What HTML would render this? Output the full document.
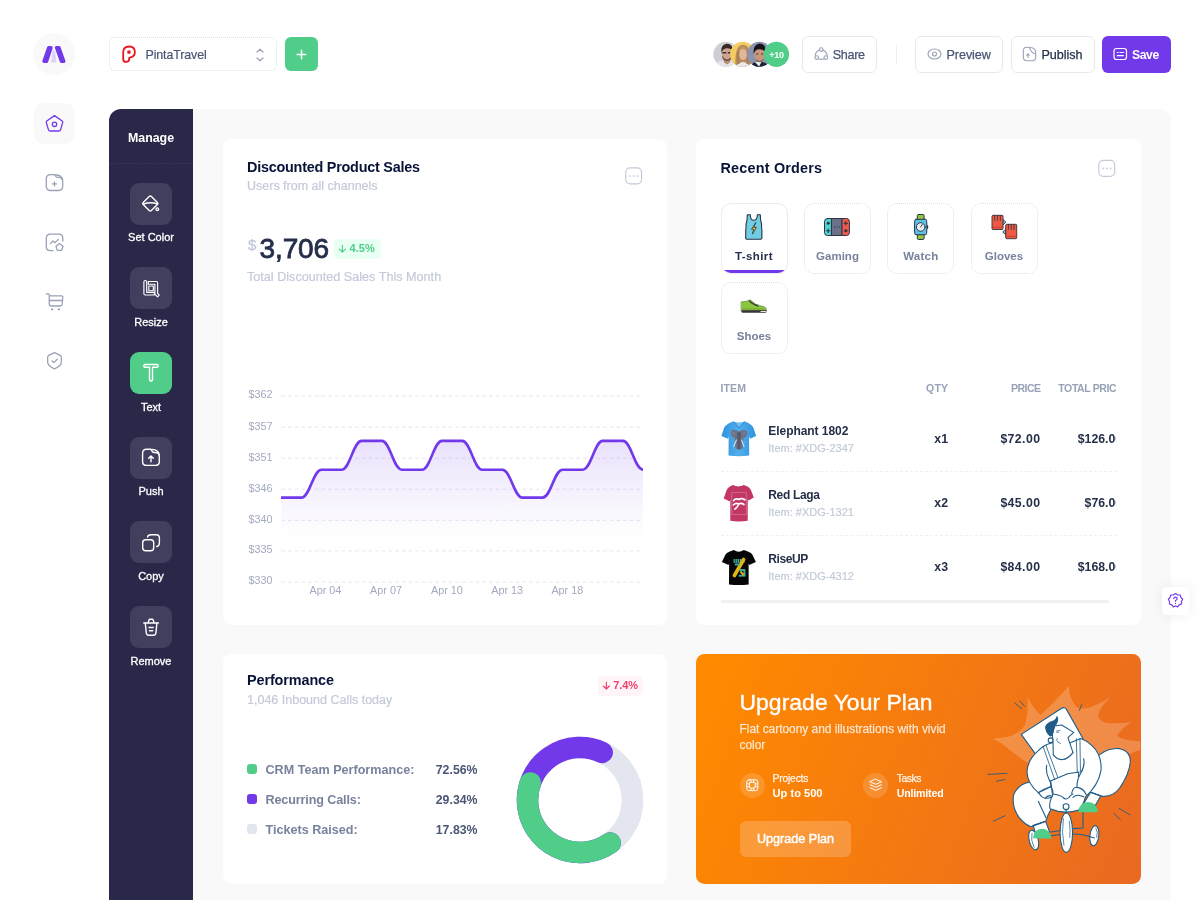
<!DOCTYPE html>
<html lang="en">
<head>
<meta charset="utf-8">
<title>Dashboard</title>
<style>
*{box-sizing:border-box;margin:0;padding:0}
html,body{width:1200px;height:900px;overflow:hidden;background:#fff}
body{font-family:"Liberation Sans",sans-serif;color:#071437;position:relative}
.abs{position:absolute}
.b{font-weight:bold}
/* left nav */
#logo{left:33px;top:33px;width:42px;height:42px;border-radius:50%;background:#f9f9f9}
#navact{left:34px;top:103px;width:41px;height:41px;border-radius:10px;background:#f9f9f9}
/* header */
#sel{left:109px;top:37px;width:167.5px;height:34px;border:1px dotted #dadeea;border-radius:6px}
#plus{left:285px;top:37px;width:33px;height:34px;border-radius:6px;background:#50cd89}
.btn{top:36px;height:37px;border:1px solid #e7e9f0;border-radius:6px;background:#fff;font-size:13px;color:#4b5675}
/* wrapper */
#wrap{left:109px;top:109px;width:1062px;height:800px;background:#f9f9f9;border-radius:12px 12px 0 0}
#aside{left:109px;top:109px;width:84px;height:800px;background:#2a2849;border-radius:12px 0 0 0}
.card{background:#fff;border-radius:8.5px}
.tool{left:130px;width:42px;height:42px;border-radius:9px;background:#403f5e}
.tlabel{left:109px;width:84px;margin-top:.8px;text-align:center;color:#fff;font-size:11px;-webkit-text-stroke:.3px #fff}

.tab{top:202.5px;width:67px;height:71.5px;border:1px dotted #d9dde9;border-radius:10px;background:#fff;overflow:hidden}
.tab .tl{position:absolute;left:0;right:0;top:44.5px;text-align:center;font-size:11.5px;line-height:16px;font-weight:bold;color:#78829d}
.th{top:381px;font-size:10.5px;line-height:14px;font-weight:bold;color:#99a1b7;letter-spacing:.1px}
.pn{left:768.3px;font-size:12px;letter-spacing:-.05px;line-height:16px;font-weight:bold;color:#252f4a}
.pi{left:768.3px;font-size:11px;line-height:14px;color:#c4cada;-webkit-text-stroke:.2px #c4cada}
.pv{font-size:12.3px;line-height:16px;font-weight:bold;color:#252f4a;text-align:right;white-space:nowrap}
.sep{left:720.5px;width:396px;height:0;border-top:1px dashed #eef0f5}

.lg{left:265.5px;margin-top:.8px;font-size:12.6px;line-height:16px;font-weight:bold;color:#78829d}
.lv{left:400px;margin-top:.8px;width:77.5px;text-align:right;font-size:12.3px;line-height:16px;font-weight:bold;color:#4b5675}
.w75{color:rgba(255,255,255,.78)}
</style>
</head>
<body>
<!-- left nav -->
<div id="logo" class="abs"></div>
<div id="navact" class="abs"></div>

<!-- header -->
<div id="sel" class="abs"></div>
<div id="plus" class="abs"></div>


<!-- logo -->
<svg class="abs" style="left:33px;top:33px" width="42" height="42" viewBox="33 33 42 42">
<path d="M53.800 50.300 Q54.700 50.300 55.100 51.600 L56.600 62.400 L51 62.400 L52.500 51.600 Q52.900 50.300 53.800 50.300 Z" fill="#dcd4f8"/>
<path d="M48.700 47.700 L51 47.700 L46.600 61.300 L44 61.300 Z" fill="#7239ea" stroke="#7239ea" stroke-width="3.400" stroke-linejoin="round"/>
<path d="M56.600 47.700 L59 47.700 L63.800 61.300 L61.500 61.300 Z" fill="#7239ea" stroke="#7239ea" stroke-width="3.400" stroke-linejoin="round"/>
</svg>
<!-- nav icons -->
<svg class="abs" style="left:40px;top:108px" width="30" height="270" viewBox="40 108 30 270" fill="none" stroke="#99a1b7" stroke-width="1.3" stroke-linecap="round" stroke-linejoin="round">
<g stroke="#7239ea"><path d="M54.5 115.6 L62.2 121 Q62.9 121.6 62.7 122.5 L60.6 129.6 Q60.2 131 58.8 131 L50.2 131 Q48.8 131 48.4 129.6 L46.3 122.5 Q46.100 121.6 46.8 121 Z"/><circle cx="54.5" cy="124.3" r="2.2"/></g>
<g><path d="M54.7 174.700 L50.500 174.700 Q46.300 174.700 46.300 178.900 L46.300 186.300 Q46.300 190.500 50.500 190.500 L58.500 190.500 Q62.700 190.500 62.700 186.300 L62.700 181.500 Q62.700 177.300 58.500 177.300 L57.300 177.300 Q55.800 177.300 54.700 174.700 Z"/><path d="M55.5 175 Q62 175 62.600 180"/><path d="M54.500 181.900 v4 M52.500 183.900 h4"/></g>
<g><path d="M62.800 241 L62.800 238.300 Q62.800 234.100 58.600 234.100 L50.500 234.100 Q46.300 234.100 46.300 238.300 L46.300 246.500 Q46.300 250.700 50.500 250.700 L53 250.700"/><path d="M50.300 243.600 L52.800 241 L55 242.600 L58.300 239.400"/><path d="M59.500 243.600 L63 246.200 L61.700 250.400 L57.300 250.400 L56 246.200 Z"/></g>
<g><path d="M46.300 293.800 L48.300 293.800 Q49.300 293.800 49.300 294.800 L49.300 304 Q49.300 306 51.300 306 L60 306 Q62 306 62.200 304 L62.800 297.300 Q63 295.800 61.500 295.800 L49.300 295.800"/><path d="M49.300 300.500 L62.500 300.500"/><path d="M51.800 309.300 h.8 M58.500 309.300 h.8" stroke-width="1.800"/></g>
<g><path d="M54.500 352.600 L60.300 355.300 Q61.300 355.800 61.300 356.900 L61.300 362.500 Q61.300 365.500 54.500 369 Q47.700 365.500 47.700 362.500 L47.700 356.900 Q47.700 355.800 48.700 355.300 Z"/><path d="M52 361 L53.800 362.600 L57.200 359.200"/></g>
</svg>
<!-- select -->
<svg class="abs" style="left:118px;top:42px" width="22" height="24" viewBox="118 42 22 24" fill="none">
<path d="M129.200 57.800 L129.200 59 Q129.200 61.900 126.200 61.900 Q123.200 61.900 123.200 58.900 L123.200 52.300 Q123.200 46.500 129.200 46.500 Q134.900 46.500 134.900 52.200 Q134.900 56.500 129.200 57.800 Z" stroke="#e9141c" stroke-width="1.800" stroke-linejoin="round"/>
<rect x="127.300" y="50.400" width="3.300" height="3.400" rx="1" fill="#e9141c"/>
</svg>
<div class="abs" style="left:145.500px;top:46.500px;font-size:12.4px;line-height:16px;color:#4b5675;letter-spacing:-.1px;-webkit-text-stroke:.2px #4b5675">PintaTravel</div>
<svg class="abs" style="left:254px;top:46px" width="12" height="18" viewBox="254 46 12 18" fill="none" stroke="#99a1b7" stroke-width="1.200" stroke-linecap="round" stroke-linejoin="round"><path d="M257 52 L260 49.200 L263 52"/><path d="M257 58 L260 60.800 L263 58"/></svg>
<svg class="abs" style="left:295px;top:48px" width="13" height="13" viewBox="0 0 13 13" fill="none" stroke="#fff" stroke-width="1.500" stroke-linecap="round"><path d="M6.500 2.200 v8.600 M2.200 6.500 h8.600"/></svg>

<!-- avatars -->
<svg class="abs" style="left:712px;top:40px" width="80" height="29" viewBox="712 40 80 29">
<defs>
<clipPath id="a1"><circle cx="725.900" cy="54.300" r="12.500"/></clipPath>
<clipPath id="a2"><circle cx="742.600" cy="54.300" r="12.500"/></clipPath>
<clipPath id="a3"><circle cx="759.500" cy="54.300" r="12.500"/></clipPath>
</defs>
<g clip-path="url(#a1)"><rect x="712" y="40" width="28" height="29" fill="#cfced6"/>
<path d="M714 69 Q715 61.500 722 60.500 L727 64 L732 60.500 Q738 61.500 739 69 Z" fill="#e4e5ec"/>
<path d="M723.500 57 L730.500 57 L730 62.500 L727 64.500 L724 62.500 Z" fill="#b88d78"/>
<ellipse cx="727" cy="53.500" rx="5.300" ry="6.800" fill="#cda48d"/>
<path d="M721.300 53 Q720.300 45 726.500 43.800 Q733.500 43.500 732.800 52.500 Q731.500 48.200 727 48.300 Q722.800 48.300 721.300 53 Z" fill="#3a2924"/>
<path d="M722 55.500 Q727 63.500 732 55.500 Q731.800 60.500 727 61 Q722.200 60.500 722 55.500 Z" fill="#6b4c3f"/>
<path d="M722.300 52.700 h4 M727.800 52.700 h4" stroke="#3d3336" stroke-width="1.500"/></g>
<g clip-path="url(#a2)"><rect x="729" y="40" width="28" height="29" fill="#f5cc62"/>
<path d="M735.500 69 Q734.500 52 738.500 46.800 Q743 42.500 747.500 46.800 Q751.500 52 750.500 69 Z" fill="#b98a5e"/>
<path d="M735 69 Q737 62.500 743 62 Q749 62.500 751 69 Z" fill="#ebe8ec"/>
<ellipse cx="743" cy="54" rx="3.900" ry="6" fill="#e3b898"/>
<path d="M739 53.500 Q738.800 46.800 743 46.500 Q747.200 46.800 747 53.500 Q746 49 743 49.200 Q740 49 739 53.500 Z" fill="#c39564"/>
<path d="M739.300 52 Q738 58 739.500 64 L738 64 Q736.500 58 738 51 Z M746.700 52 Q748 58 746.500 64 L748 64 Q749.500 58 748 51 Z" fill="#a67a50"/></g>
<g clip-path="url(#a3)"><rect x="746" y="40" width="28" height="29" fill="#8b93ae"/>
<path d="M749 69 Q751 62 759 61.500 Q768 62 771 69 Z" fill="#1e2233"/>
<path d="M755 62 L759 66.500 L761.500 62 Z" fill="#eceef2"/>
<ellipse cx="759.500" cy="54.800" rx="5.100" ry="7" fill="#c9987c"/>
<path d="M753.700 54 Q752.500 45 759.500 43.600 Q767 44 765.500 54 Q764.500 49 759.500 49.200 Q755 49 753.700 54 Z" fill="#17141a"/>
<path d="M755.500 58.500 Q759.500 63 763.500 58.500 Q763 62 759.500 62.300 Q756 62 755.500 58.500 Z" fill="#8a6350"/>
<path d="M756 54 h2.300 M761 54 h2.300" stroke="#3b2a25" stroke-width=".900"/></g>
<circle cx="776.400" cy="54.300" r="12.650" fill="#50cd89"/>
<text x="776.500" y="57.500" text-anchor="middle" font-family="Liberation Sans, sans-serif" font-size="9" font-weight="bold" fill="#fff" letter-spacing="-.2">+10</text>
</svg>

<!-- buttons -->
<div class="abs btn" style="left:802px;width:75px"></div>
<div class="abs" style="left:832.800px;top:46.6px;font-size:12.6px;line-height:17px;color:#4b5675;letter-spacing:-.35px;-webkit-text-stroke:.25px #4b5675">Share</div>
<svg class="abs" style="left:812px;top:45px" width="18" height="18" viewBox="812 45 18 18" fill="none" stroke="#99a1b7" stroke-width="1.100" stroke-linecap="round"><circle cx="821.200" cy="49.600" r="1.800"/><circle cx="816.700" cy="57.600" r="1.800"/><circle cx="825.800" cy="57.600" r="1.800"/><path d="M819.200 50.300 Q815.200 52 815.300 55.800 M823.200 50.300 Q827.200 52 827.100 55.800 M818.500 58.800 Q821.200 60 824 58.800"/></svg>
<div class="abs" style="left:896px;top:45px;width:1px;height:19px;background:#eceef3"></div>
<div class="abs btn" style="left:915px;width:88px"></div>
<div class="abs" style="left:946.500px;top:46.6px;font-size:12.6px;line-height:17px;color:#4b5675;letter-spacing:-.07px;-webkit-text-stroke:.25px #4b5675">Preview</div>
<svg class="abs" style="left:926px;top:46px" width="17" height="16" viewBox="926 46 17 16" fill="none" stroke="#99a1b7" stroke-width="1.100"><ellipse cx="934.500" cy="54" rx="6.500" ry="5"/><circle cx="934.500" cy="54" r="2"/></svg>
<div class="abs btn" style="left:1011px;width:84px"></div>
<div class="abs" style="left:1041.500px;top:46.6px;font-size:12.6px;line-height:17px;color:#252f4a;letter-spacing:-.07px;-webkit-text-stroke:.25px #252f4a">Publish</div>
<svg class="abs" style="left:1021px;top:45px" width="17" height="18" viewBox="1021 45 17 18" fill="none" stroke="#99a1b7" stroke-width="1.100" stroke-linecap="round" stroke-linejoin="round"><path d="M1029.500 47.300 L1027 47.300 Q1023.300 47.300 1023.300 51 L1023.300 57 Q1023.300 60.700 1027 60.700 L1032 60.700 Q1035.700 60.700 1035.700 57 L1035.700 53.500 Q1031 53.500 1029.500 47.300 Z"/><path d="M1030.500 47.500 Q1035.500 48 1035.700 52.500"/><path d="M1028 57.500 v-3.500 M1026.600 55.200 L1028 53.800 L1029.400 55.200"/></svg>
<div class="abs" style="left:1102px;top:36px;width:69px;height:37px;border-radius:6px;background:#7239ea"></div>
<div class="abs b" style="left:1132px;top:46.6px;font-size:12.2px;line-height:17px;color:#fff;letter-spacing:-.4px">Save</div>
<svg class="abs" style="left:1112px;top:46px" width="17" height="16" viewBox="1112 46 17 16" fill="none" stroke="#fff" stroke-width="1.200" stroke-linecap="round"><rect x="1114" y="48.500" width="12.500" height="11" rx="2.500"/><path d="M1117.300 52.500 h.8 M1120 52.500 h3.500 M1117.300 55.700 h6"/></svg>

<!-- wrapper -->
<div id="wrap" class="abs"></div>
<div id="aside" class="abs"></div>


<div class="abs b" style="left:109px;top:129.8px;width:84px;text-align:center;color:#fff;font-size:12.4px;line-height:16px">Manage</div>
<div class="abs" style="left:109px;top:163px;width:84px;height:0;border-top:1px dashed #36345a"></div>
<div class="abs tool" id="tool0" style="top:182.7px;background:#403f5e"></div>
<div class="abs tlabel" style="top:229.7px;line-height:15px">Set Color</div>
<div class="abs tool" id="tool1" style="top:267.4px;background:#403f5e"></div>
<div class="abs tlabel" style="top:314.4px;line-height:15px">Resize</div>
<div class="abs tool" id="tool2" style="top:352.0px;background:#50cd89"></div>
<div class="abs tlabel" style="top:399.0px;line-height:15px">Text</div>
<div class="abs tool" id="tool3" style="top:436.7px;background:#403f5e"></div>
<div class="abs tlabel" style="top:483.7px;line-height:15px">Push</div>
<div class="abs tool" id="tool4" style="top:521.4px;background:#403f5e"></div>
<div class="abs tlabel" style="top:568.4px;line-height:15px">Copy</div>
<div class="abs tool" id="tool5" style="top:606.0px;background:#403f5e"></div>
<div class="abs tlabel" style="top:653.0px;line-height:15px">Remove</div>


<!-- tool icons -->
<svg class="abs" style="left:130px;top:180px" width="42" height="470" viewBox="130 180 42 470" fill="none" stroke="#fff" stroke-width="1.400" stroke-linecap="round" stroke-linejoin="round">
<!-- set color -->
<g><path d="M149.200 196.600 Q150.300 195.600 151.400 196.600 L157.400 202.400 Q158.500 203.500 157.400 204.600 L151.400 210.400 Q150.300 211.400 149.200 210.400 L143.200 204.600 Q142.100 203.500 143.200 202.400 Z"/><path d="M143.500 204 Q151 201.500 157.500 204"/><circle cx="157.300" cy="209.200" r="1.300"/></g>
<!-- resize -->
<g stroke-width="1.150"><path d="M143.900 281.700 Q143.900 280.500 145.300 280.500 Q146.700 280.500 146.700 281.700 L146.700 292.300 L154.300 292.300 L154.300 295 L145.100 295 Q143.900 295 143.900 293.800 Z"/><path d="M148.300 281.500 L156.400 281.500 Q157.600 281.500 157.600 282.700 L157.600 293.300 L159.200 295 L157.500 296.800 L154.900 294.200 L154.900 284.200 L148.300 284.200 Z" fill="#403f5e"/><rect x="148.800" y="286" width="4.500" height="4.700" stroke-width="1.100"/></g>
<!-- text -->
<g><path d="M145 364.500 L157 364.500 Q158.200 364.500 158.200 365.900 Q158.200 367.300 157 367.300 L152.500 367.300 L152.500 379.500 Q152.500 381 151 381 Q149.500 381 149.500 379.500 L149.500 367.300 L145 367.300 Q143.800 367.300 143.800 365.900 Q143.800 364.500 145 364.500 Z"/></g>
<!-- push -->
<g><path d="M151 449.300 L146.600 449.300 Q142.600 449.300 142.600 453.300 L142.600 461.400 Q142.600 465.400 146.600 465.400 L155.300 465.400 Q159.300 465.400 159.300 461.400 L159.300 456.500 Q159.300 452.500 155.300 452.500 L154 452.500 Q152.200 452.500 151 449.300 Z"/><path d="M152 449.500 Q158.600 449.700 159.200 455"/><path d="M151 461.800 v-5.500 M148.700 458.300 L151 456 L153.300 458.300"/></g>
<!-- copy -->
<g><rect x="142.700" y="539.800" width="11" height="11" rx="3"/><path d="M147.500 537 Q148 534.700 151 534.700 L156.300 534.700 Q159.400 534.700 159.400 537.800 L159.400 543 Q159.400 546 156.800 546.500"/></g>
<!-- remove -->
<g><path d="M143.800 623 L158.400 623"/><path d="M148.200 622.600 L149 620 Q149.300 619.200 150.200 619.200 L152 619.200 Q152.900 619.200 153.200 620 L154 622.600"/><path d="M145.300 623.300 L146.300 633 Q146.600 635.300 148.900 635.300 L153.300 635.300 Q155.600 635.300 155.900 633 L156.900 623.300"/><path d="M149 627.500 h4.200 M149.500 630.800 h3.200"/></g>
</svg>

<!-- cards -->
<div id="c1" class="abs card" style="left:223px;top:139px;width:444px;height:486px"></div>
<div id="c2" class="abs card" style="left:696px;top:139px;width:445px;height:486px"></div>
<div id="c3" class="abs card" style="left:223px;top:654px;width:444px;height:230px"></div>
<div id="c4" class="abs card" style="left:696px;top:654px;width:445px;height:230px;border-radius:8.5px;background:linear-gradient(112.14deg,#ff8a00 3.59%,#e96922 100%)"></div>

<!-- card1 content -->
<div class="abs b" style="left:247px;top:158px;font-size:14.4px;line-height:18px;color:#071437;letter-spacing:-.23px">Discounted Product Sales</div>
<div class="abs" style="left:247px;top:178px;font-size:12.5px;line-height:16px;color:#c4cada;-webkit-text-stroke:.2px #c4cada">Users from all channels</div>
<div class="abs" style="left:248px;top:237.300px;font-size:15px;line-height:16px;color:#c0c6d8;-webkit-text-stroke:.25px #c0c6d8">$</div>
<div class="abs" style="left:259.600px;top:232px;font-size:28px;line-height:34px;color:#252f4a;letter-spacing:-.15px;-webkit-text-stroke:.8px #252f4a">3,706</div>
<div class="abs" style="left:333.5px;top:239px;width:47.3px;height:19.5px;border-radius:4.5px;background:#e8fff3"></div>
<svg class="abs" style="left:337px;top:243px" width="11" height="11" viewBox="337 243 11 11" fill="none" stroke="#50cd89" stroke-width="1.150" stroke-linecap="round" stroke-linejoin="round"><path d="M342.400 245.400 v6.600 M339.400 249.200 L342.400 252.200 L345.400 249.200"/></svg>
<div class="abs b" style="left:349.5px;top:242.3px;font-size:11px;line-height:13px;color:#50cd89;letter-spacing:.1px">4.5%</div>
<div class="abs" style="left:247px;top:269px;font-size:12.63px;line-height:16px;color:#c4cada;-webkit-text-stroke:.2px #c4cada">Total Discounted Sales This Month</div>
<svg class="abs" style="left:0;top:0" width="1200" height="900" viewBox="0 0 1200 900">
<defs><linearGradient id="ag" x1="0" y1="0" x2="0" y2="1"><stop offset="0" stop-color="#7239ea" stop-opacity=".15"/><stop offset=".68" stop-color="#7239ea" stop-opacity="0"/></linearGradient>
<clipPath id="cc"><rect x="281" y="380" width="362" height="210"/></clipPath></defs>
<style>.ax{font-family:"Liberation Sans",sans-serif;font-size:10.8px;fill:#a3a9bf}</style>
<line x1="281.3" x2="641.6" y1="396" y2="396" stroke="#e4e6ef" stroke-width="1" stroke-dasharray="3.7 3"/>
<text x="272.5" y="398.1" text-anchor="end" class="ax">$362</text>
<line x1="281.3" x2="641.6" y1="427.1" y2="427.1" stroke="#e4e6ef" stroke-width="1" stroke-dasharray="3.7 3"/>
<text x="272.5" y="429.5" text-anchor="end" class="ax">$357</text>
<line x1="281.3" x2="641.6" y1="458.2" y2="458.2" stroke="#e4e6ef" stroke-width="1" stroke-dasharray="3.7 3"/>
<text x="272.5" y="460.6" text-anchor="end" class="ax">$351</text>
<line x1="281.3" x2="641.6" y1="489.2" y2="489.2" stroke="#e4e6ef" stroke-width="1" stroke-dasharray="3.7 3"/>
<text x="272.5" y="491.6" text-anchor="end" class="ax">$346</text>
<line x1="281.3" x2="641.6" y1="520.3" y2="520.3" stroke="#e4e6ef" stroke-width="1" stroke-dasharray="3.7 3"/>
<text x="272.5" y="522.7" text-anchor="end" class="ax">$340</text>
<line x1="281.3" x2="641.6" y1="550.9" y2="550.9" stroke="#e4e6ef" stroke-width="1" stroke-dasharray="3.7 3"/>
<text x="272.5" y="553.3" text-anchor="end" class="ax">$335</text>
<line x1="281.3" x2="641.6" y1="582.0" y2="582.0" stroke="#e4e6ef" stroke-width="1" stroke-dasharray="3.7 3"/>
<text x="272.5" y="584.4" text-anchor="end" class="ax">$330</text>
<text x="325.4" y="594.3" text-anchor="middle" class="ax">Apr 04</text>
<text x="386" y="594.3" text-anchor="middle" class="ax">Apr 07</text>
<text x="446.9" y="594.3" text-anchor="middle" class="ax">Apr 10</text>
<text x="507.1" y="594.3" text-anchor="middle" class="ax">Apr 13</text>
<text x="567.3" y="594.3" text-anchor="middle" class="ax">Apr 18</text>

<g clip-path="url(#cc)">
<path d="M281.3 497.6 L301.4 497.6 C309.8 497.6 313.0 469.7 321.5 469.7 L341.6 469.7 C350.0 469.7 353.2 440.9 361.7 440.9 L381.8 440.9 C390.2 440.9 393.4 469.7 401.9 469.7 L422.0 469.7 C430.4 469.7 433.6 440.9 442.1 440.9 L462.1 440.9 C470.6 440.9 473.8 469.7 482.2 469.7 L502.3 469.7 C510.8 469.7 514.0 497.6 522.4 497.6 L542.5 497.6 C551.0 497.6 554.2 469.7 562.6 469.7 L582.7 469.7 C591.2 469.7 594.4 440.9 602.8 440.9 L622.9 440.9 C631.3 440.9 634.6 469.7 643.0 469.7 L643.0 582 L281.3 582 Z" fill="url(#ag)"/>
<path d="M281.3 497.6 L301.4 497.6 C309.8 497.6 313.0 469.7 321.5 469.7 L341.6 469.7 C350.0 469.7 353.2 440.9 361.7 440.9 L381.8 440.9 C390.2 440.9 393.4 469.7 401.9 469.7 L422.0 469.7 C430.4 469.7 433.6 440.9 442.1 440.9 L462.1 440.9 C470.6 440.9 473.8 469.7 482.2 469.7 L502.3 469.7 C510.8 469.7 514.0 497.6 522.4 497.6 L542.5 497.6 C551.0 497.6 554.2 469.7 562.6 469.7 L582.7 469.7 C591.2 469.7 594.4 440.9 602.8 440.9 L622.9 440.9 C631.3 440.9 634.6 469.7 643.0 469.7" fill="none" stroke="#7239ea" stroke-width="2.6" stroke-linecap="round" stroke-linejoin="round"/>
</g>
</svg>

<!-- card2 content -->
<div class="abs b" style="left:720.5px;top:159px;font-size:14.4px;line-height:18px;color:#071437;letter-spacing:.2px">Recent Orders</div>
<div id="tabs">
<div class="abs tab" id="tab0" style="left:720.5px;border:1px solid #e9ebf5"><div class="tl" style="color:#252f4a;letter-spacing:.4px">T-shirt</div><div style="position:absolute;left:0;right:0;bottom:0;height:3px;background:#7239ea"></div></div>
<div class="abs tab" id="tab1" style="left:804px"><div class="tl">Gaming</div></div>
<div class="abs tab" id="tab2" style="left:887.3px"><div class="tl" style="letter-spacing:.25px">Watch</div></div>
<div class="abs tab" id="tab3" style="left:970.5px"><div class="tl">Gloves</div></div>
<div class="abs tab" id="tab4" style="left:720.5px;top:282px"><div class="tl">Shoes</div></div>
</div>
<div id="tbl" class="abs" style="left:720.5px;top:370px;width:396px;height:240px;overflow:hidden">
</div>
<div class="abs th" style="left:720.5px">ITEM</div>
<div class="abs th" style="left:888px;width:60px;text-align:right">QTY</div>
<div class="abs th" style="left:980px;width:60px;text-align:right;letter-spacing:-.5px"><span style="margin-right:-.5px">PRICE</span></div>
<div class="abs th" style="left:1058.3px;width:58px;overflow:hidden;white-space:nowrap;letter-spacing:-.4px">TOTAL PRICE</div>

<div class="abs pn" style="top:423px">Elephant 1802</div><div class="abs pi" style="top:440.5px">Item: #XDG-2347</div>
<div class="abs pv" style="left:888px;width:60px;top:430.5px">x1</div><div class="abs pv" style="left:980px;width:60px;top:430.5px;letter-spacing:.4px"><span style="margin-right:-.4px">$72.00</span></div><div class="abs pv" style="left:1050px;width:66.2px;top:430.5px;overflow:hidden;text-align:left;direction:ltr"><span style="float:right;margin-right:-6px">$126.00</span></div>
<div class="abs sep" style="top:471px"></div>
<div class="abs pn" style="top:487px;letter-spacing:-.35px">Red Laga</div><div class="abs pi" style="top:504.5px">Item: #XDG-1321</div>
<div class="abs pv" style="left:888px;width:60px;top:494.5px">x2</div><div class="abs pv" style="left:980px;width:60px;top:494.5px;letter-spacing:.4px"><span style="margin-right:-.4px">$45.00</span></div><div class="abs pv" style="left:1050px;width:66.2px;top:494.5px;overflow:hidden"><span style="float:right;margin-right:-6px">$76.00</span></div>
<div class="abs sep" style="top:535px"></div>
<div class="abs pn" style="top:551px;letter-spacing:-.4px">RiseUP</div><div class="abs pi" style="top:568.5px">Item: #XDG-4312</div>
<div class="abs pv" style="left:888px;width:60px;top:558.5px">x3</div><div class="abs pv" style="left:980px;width:60px;top:558.5px;letter-spacing:.4px"><span style="margin-right:-.4px">$84.00</span></div><div class="abs pv" style="left:1050px;width:66.2px;top:558.5px;overflow:hidden"><span style="float:right;margin-right:-6px">$168.00</span></div>
<div class="abs" style="left:720.5px;top:599.5px;width:388.5px;height:3.5px;border-radius:2px;background:#f1f1f4"></div>


<!-- tab icons -->
<svg class="abs" style="left:740px;top:210px" width="290" height="110" viewBox="740 210 290 110" stroke-linejoin="round" stroke-linecap="round">
<!-- tank top -->
<g transform="translate(745 214)" stroke="#2f3340" stroke-width="1.100">
<path d="M2.300 0.800 L5.300 0.800 Q5.300 6.300 8.800 6.300 Q12.300 6.300 12.300 0.800 L15.300 0.800 Q15.300 7 16.600 10.200 Q16.300 13 16.900 16 L16.900 24 Q16.900 25.200 15.700 25.200 L1.900 25.200 Q0.700 25.200 0.700 24 L0.700 16 Q1.300 13 1 10.200 Q2.300 7 2.300 0.800 Z" fill="#70cde6"/>
<path d="M10.600 8.800 L6.500 15.200 L8.700 15.200 L7.400 20.200 L11.400 13.400 L9.200 13.400 Z" fill="#f7bf26" stroke-width=".800"/>
</g>
<!-- switch -->
<g stroke="#2f3340" stroke-width="1">
<path d="M827.500 218.500 L831.800 218.500 L831.800 235.500 L827.500 235.500 Q824.500 235.500 824.500 232.500 L824.500 221.500 Q824.500 218.500 827.500 218.500 Z" fill="#4fd3d6"/>
<rect x="831.800" y="218.500" width="10.500" height="17" fill="#6b7188"/>
<path d="M842.300 218.500 L846.400 218.500 Q849.400 218.500 849.400 221.500 L849.400 232.500 Q849.400 235.500 846.400 235.500 L842.300 235.500 Z" fill="#f2594b"/>
<circle cx="828.200" cy="223.200" r="1.200" fill="#2f3340" stroke-width=".600"/>
<path d="M828.200 229 v3.400 M826.500 230.700 h3.400" stroke-width="1.100"/>
<path d="M845.800 221.500 v3.400 M844.100 223.200 h3.400" stroke-width="1.100"/>
<circle cx="845.800" cy="230.800" r="1.200" fill="#2f3340" stroke-width=".600"/>
<path d="M834.500 227 h.300 M837 227 h.300 M839.500 227 h.300" stroke-width="1.100"/>
</g>
<!-- watch -->
<g stroke="#2f3340" stroke-width="1">
<rect x="917.300" y="214.500" width="6.800" height="6" rx="1.200" fill="#8dc63f"/>
<rect x="917.300" y="233.500" width="6.800" height="6" rx="1.200" fill="#8dc63f"/>
<path d="M916 219.300 L925.400 219.300 Q926.600 219.300 926.600 220.500 Q927.400 227 926.600 233.500 Q926.600 234.700 925.400 234.700 L916 234.700 Q914.800 234.700 914.800 233.500 Q914 227 914.800 220.500 Q914.800 219.300 916 219.300 Z" fill="#5bc3ea"/>
<circle cx="920.700" cy="227" r="4.300" fill="#e9edf2"/>
<path d="M920.700 227 L922.300 224.300" stroke-width=".900"/>
<path d="M927.500 226 v2" stroke-width="1.400"/>
</g>
<!-- gloves -->
<g stroke="#2f3340" stroke-width=".900">
<path d="M1003 219.500 L1005.800 222 L1003 225 Z" fill="#7fd0ee"/>
<path d="M1005.500 229.500 L1002.700 232 L1005.500 234.500 Z" fill="#7fd0ee"/>
<path d="M992 216.200 Q992 215.300 993 215.300 L1002 215.300 Q1003 215.300 1003 216.200 L1003 228.600 Q1003 229.500 1002 229.500 L993 229.500 Q992 229.500 992 228.600 Z" fill="#ee5a44"/>
<path d="M994.700 215.500 v5 M997.500 215.500 v5 M1000.300 215.500 v5" stroke-width=".800"/>
<path d="M1005.700 225.200 Q1005.700 224.300 1006.700 224.300 L1015.700 224.300 Q1016.700 224.300 1016.700 225.200 L1016.700 237.800 Q1016.700 238.700 1015.700 238.700 L1006.700 238.700 Q1005.700 238.700 1005.700 237.800 Z" fill="#ee5a44"/>
<path d="M1008.400 224.500 v5 M1011.200 224.500 v5 M1014 224.500 v5" stroke-width=".800"/>
<path d="M992.200 227.300 h10.600 M1005.900 236.500 h10.600" stroke-width=".700" stroke="#b8382c"/>
</g>
<!-- shoe -->
<g>
<path d="M741.500 301.800 Q745 302.300 749.300 300.200 Q750.300 299.700 751 300.500 Q755 305 762 306.200 Q766.300 306.800 766.300 310 L766.300 311 L741.500 311 Z" fill="#8bc63e" stroke="#46691f" stroke-width=".600"/>
<path d="M741.500 310.200 L766.400 310.200 L766.400 311.700 Q766.400 312.800 765.300 312.800 L742.600 312.800 Q741.500 312.800 741.500 311.700 Z" fill="#3b3340"/>
<path d="M749.500 301 L751.300 302.800 M751.300 302.300 L753.300 304.200 M753.500 303.600 L755.500 305.400 M756 304.800 L758 306.400" stroke="#2f3340" stroke-width="1.100"/>
<path d="M742.500 309 h21" stroke="#5e8c26" stroke-width=".700" stroke-dasharray="1 1"/>
<path d="M761 311.500 h4.500" stroke="#e8e8ea" stroke-width="1"/>
</g>
</svg>

<!-- product images -->
<svg class="abs" style="left:718px;top:418px" width="42" height="172" viewBox="718 418 42 172">
<defs><linearGradient id="bs" x1="0" y1="0" x2="1" y2="0"><stop offset="0" stop-color="#2f93df"/><stop offset=".5" stop-color="#52aeec"/><stop offset="1" stop-color="#2f93df"/></linearGradient></defs>
<g transform="translate(720.800 421)">
<path d="M12.600 .600 Q18.200 3 23.800 .600 Q30 2.500 32.500 6.500 L35.300 14.900 L29.200 17.700 L28.200 15.500 L28.400 34.500 Q18 36 7.700 34.500 L7.900 15.500 L7.200 17.700 L.600 14.900 L3.400 6.500 Q6 2.500 12.600 .600 Z" fill="url(#bs)"/>
<path d="M12.600 .600 Q18.200 3 23.800 .600 L18.200 7.200 Z" fill="#6bbcf0"/>
<path d="M12.600 .600 L18.200 7.200 L23.800 .600" fill="none" stroke="#2a86cf" stroke-width=".900"/>
<path d="M10 11.500 Q10.500 8.200 14.500 9 Q17 9.500 18.200 10.500 Q19.400 9.500 21.900 9 Q25.900 8.200 26.400 11.500 Q26.400 15.500 22.500 17.500 L21.800 27 Q20 29.200 18.200 28.500 Q16.400 29.200 14.600 27 L13.900 17.500 Q10 15.500 10 11.500 Z" fill="#6f7387"/>
<path d="M16.300 12 Q18.200 10.500 20.100 12 L19.600 27.500 Q18.200 28.800 16.800 27.500 Z" fill="#565a72"/>
<path d="M15.600 19 L13 25.500 M20.800 19 L23.200 25.500" stroke="#e6edf5" stroke-width="1" stroke-linecap="round"/>
<path d="M12 11.500 l2 1.500 M24.400 11.500 l-2 1.500" stroke="#9a8fb0" stroke-width=".800"/>
</g>
<g transform="translate(723.400 484)">
<path d="M9.500 1.100 Q15 4.200 20.400 1.100 Q26 2.800 27.500 6 L30.400 13.400 L25.300 16.400 L24.400 15 L24.300 36.800 Q15.500 38 6.900 36.800 L6.900 15.500 L6.400 17.500 L.300 14.400 L3.200 6.200 Q4.800 2.800 9.500 1.100 Z" fill="#c23763"/>
<path d="M9.500 1.100 Q15 4.200 20.400 1.100 Q15 6 9.500 1.100 Z" fill="#a3294f"/>
<rect x="8.300" y="8.400" width="14.600" height="22.200" fill="none" stroke="#d26c8d" stroke-width=".900"/>
<path d="M10.200 16.500 Q12.500 13.800 15.500 15.500 Q18 13.500 21.500 15.800 M10 20.800 Q12.800 18.200 15.200 20.200 Q17.800 18.500 20.500 20.500 M15.200 20.500 Q13.500 24 11.500 25" fill="none" stroke="#fff" stroke-width="1.700" stroke-linecap="round"/>
</g>
<g transform="translate(720.800 549)">
<path d="M13.100 1.100 Q17.900 4.200 23 1.100 Q29 2.800 31.500 5.500 L35.100 12.900 L28.400 16 L27.800 14.500 L27.900 35.400 Q18 36.500 8.200 35.400 L8.300 14.500 L7.700 16 L1.100 12.900 L4.700 5.500 Q7 2.800 13.100 1.100 Z" fill="#050507"/>
<path d="M12.800 10 h10.800 v4 h-10.800 Z" fill="#3fa79a"/>
<path d="M14.500 10 v4 M16.600 10 v4 M18.700 10 v4 M20.800 10 v4" stroke="#050507" stroke-width=".600"/>
<path d="M22.800 10.500 L13.600 26.500" stroke="#e2b514" stroke-width="3.600" stroke-linecap="round"/>
<path d="M14 15.500 L19 15.500 M18.500 21 L23.500 21 L23.800 26.500 L18 26.800" stroke="#3fa79a" stroke-width="2" fill="none"/>
<path d="M19.500 22.500 L23 26" stroke="#e2b514" stroke-width="1.800"/>
</g>
</svg>

<!-- card3 content -->
<div class="abs b" style="left:247px;top:671px;font-size:14.4px;line-height:18px;color:#071437;letter-spacing:-.1px">Performance</div>
<div class="abs" style="left:247px;top:691.5px;font-size:12.5px;line-height:16px;color:#c4cada;-webkit-text-stroke:.2px #c4cada">1,046 Inbound Calls today</div>
<div class="abs" style="left:598px;top:676px;width:44.8px;height:19.5px;border-radius:4.5px;background:#fff5f8"></div>
<svg class="abs" style="left:601px;top:680px" width="11" height="11" viewBox="601 680 11 11" fill="none" stroke="#f1416c" stroke-width="1.150" stroke-linecap="round" stroke-linejoin="round"><path d="M606.400 682.300 v6.600 M603.400 686 L606.400 689 L609.400 686"/></svg>
<div class="abs b" style="left:613.3px;top:678.700px;font-size:11px;line-height:13px;color:#f1416c;letter-spacing:-.1px">7.4%</div>
<div class="abs" style="left:247.2px;top:764.3px;width:10px;height:10px;border-radius:3px;background:#50cd89"></div>
<div class="abs" style="left:247.2px;top:794.3px;width:10px;height:10px;border-radius:3px;background:#7239ea"></div>
<div class="abs" style="left:247.2px;top:824.3px;width:10px;height:10px;border-radius:3px;background:#e4e6ef"></div>
<div class="abs lg" style="top:761px">CRM Team Performance:</div><div class="abs lv" style="top:761px">72.56%</div>
<div class="abs lg" style="top:791px;letter-spacing:-.13px">Recurring Calls:</div><div class="abs lv" style="top:791px">29.34%</div>
<div class="abs lg" style="top:821px">Tickets Raised:</div><div class="abs lv" style="top:821px">17.83%</div>
<svg class="abs" style="left:500px;top:720px" width="160" height="160" viewBox="500 720 160 160">
<circle cx="580" cy="800" r="52.5" fill="none" stroke="#e4e6ef" stroke-width="21.5"/>
<path d="M610.11 843.01 A52.5 52.5 0 1 1 602.19 752.42" fill="none" stroke="#7239ea" stroke-width="21.5" stroke-linecap="round"/>
<path d="M610.11 843.01 A52.5 52.5 0 0 1 530.36 782.91" fill="none" stroke="#50cd89" stroke-width="21.5" stroke-linecap="round"/>
</svg>

<!-- card4 content -->
<!-- illustration -->
<svg class="abs" style="left:975px;top:670px" width="166" height="214" viewBox="975 670 166 214">
<g transform="translate(985 680) scale(0.133333)" stroke="#1f5c88" stroke-width="8.200" stroke-linecap="round" stroke-linejoin="round" fill="#fff">
<path id="burst" d="M60 440 L175 425 Q265 400 300 335 Q325 250 320 128 Q360 210 415 262 Q520 170 628 45 Q630 140 690 205 Q720 225 790 205 Q880 170 945 130 Q860 200 848 270 Q860 310 910 322 Q1000 330 1100 315 Q1020 365 990 420 Q1040 455 1165 460 L1165 525 Q1120 535 1080 560 L700 800 L330 625 Q290 610 130 480 Z" fill="#fff" fill-opacity=".2" stroke="none"/>
<!-- motion lines -->
<path d="M222 172 L275 215 M262 158 L298 198 M725 185 L708 228 M22 708 L165 700 M85 760 L148 746 M62 1060 L150 1018 M1005 962 L1088 1012 M968 1002 L1015 1048" fill="none" stroke-width="6.500"/>
<!-- pillow -->
<path d="M272 408 L575 212 Q598 198 612 222 L735 440 L440 640 Z"/>
<!-- rear wheels -->
<ellipse cx="365" cy="1200" rx="34" ry="76" transform="rotate(-14 365 1200)"/>
<path d="M352 1150 Q340 1200 368 1255" fill="none" stroke-width="5.500"/>
<ellipse cx="820" cy="1168" rx="33" ry="76" transform="rotate(7 820 1168)"/>
<path d="M832 1110 Q850 1140 838 1180" fill="none" stroke-width="5.500"/>
<!-- right leg -->
<path d="M860 560 Q930 505 1010 515 Q1092 530 1090 615 Q1080 710 1010 810 Q960 878 880 872 L780 838 L700 800 L760 620 Z"/>
<path d="M792 842 L742 925 L828 940 L868 870 Z"/>
<path d="M780 838 L872 872" fill="none"/>
<!-- left leg -->
<path d="M335 765 Q250 780 215 860 Q198 950 255 1030 Q300 1085 345 1100 L455 1062 Q470 1010 500 960 L600 900 L470 800 Z"/>
<path d="M362 1094 L380 1150 L485 1140 L455 1062 Z"/>
<path d="M358 1092 L452 1060 M400 910 L458 1035" fill="none"/>
<!-- axles, crank -->
<path d="M495 1140 L590 1125 M495 1168 L590 1155 M660 1155 Q740 1155 820 1185 M735 992 L735 1110 L660 1115" fill="none"/>
<!-- upper body silhouette -->
<path d="M505 470 Q440 485 400 530 Q318 600 315 690 Q320 780 400 845 L425 875 Q455 898 500 878 Q478 930 488 965 Q600 1012 702 975 Q742 930 752 878 Q850 790 870 680 Q878 560 800 490 Q760 452 718 438 L640 470 Z"/>
<!-- belly bottom hidden join -->
<!-- front wheel -->
<ellipse cx="610" cy="1145" rx="47" ry="148"/>
<path d="M588 1040 Q572 1140 592 1240 M632 1060 Q642 1120 636 1180" fill="none" stroke-width="5.500"/>
<path d="M608 972 L608 1000" fill="none"/>
<circle cx="608" cy="950" r="22"/>
<!-- shoes -->
<path d="M360 1186 Q365 1118 428 1115 Q492 1118 496 1190 Z" fill="#50cd89" stroke="none"/>
<path d="M700 991 Q706 918 772 915 Q840 918 846 991 Z" fill="#50cd89" stroke="none"/>
<!-- arms inner lines -->
<path d="M462 640 Q455 700 480 745 Q500 775 492 800 L400 845 M740 590 Q752 640 718 700 Q688 750 690 805" fill="none"/>
<!-- bib -->
<path d="M490 757 L620 703 L705 690 M492 757 L505 850 M704 692 L700 725" fill="none"/>
<!-- suspenders -->
<path d="M435 497 L522 745 M457 490 L546 730 M685 440 L692 695 M712 440 L716 690" fill="none" stroke-width="6.200"/>
<!-- tank neck -->
<path d="M512 560 Q580 640 660 545" fill="none"/>
<!-- hands -->
<path d="M400 845 Q440 815 492 800 Q520 830 505 875 M450 890 Q470 860 500 870 M650 850 Q660 800 690 805 Q740 810 760 862 M660 880 Q690 850 740 876" fill="none"/>
<path d="M505 855 Q560 860 585 880 Q605 905 630 880 Q645 860 660 855" fill="none"/>
<!-- head -->
<path d="M510 470 L512 562 Q580 640 660 545 L622 432 L665 393 L575 338 L520 345 L505 400 Z"/>
<circle cx="492" cy="452" r="18"/>
<path d="M455 350 Q470 320 505 312 Q535 300 540 275 Q555 310 522 345 L508 400 Q498 425 488 418 Q455 390 455 350 Z" fill="#1f5c88"/>
<path d="M535 384 L562 378 M540 394 L552 391 M545 465 Q556 470 566 476 M540 440 Q530 455 545 462" fill="none" stroke-width="5.500"/>
</g>
</svg>

<div class="abs" style="left:739.5px;top:687px;font-size:22.9px;line-height:30px;color:#fff;letter-spacing:.05px;-webkit-text-stroke:.35px #fff">Upgrade Your Plan</div>
<div class="abs w75" style="-webkit-text-stroke:.25px rgba(255,255,255,.6);left:739.5px;top:720.5px;width:240px;font-size:11.9px;line-height:16.5px">Flat cartoony and illustrations with vivid<br>color</div>
<div class="abs" style="left:739.7px;top:772.5px;width:25px;height:25px;border-radius:50%;background:rgba(255,255,255,.15)"></div>
<div class="abs" style="left:863.2px;top:772.5px;width:25px;height:25px;border-radius:50%;background:rgba(255,255,255,.15)"></div>
<div class="abs" style="left:772.6px;top:771.6px;font-size:10.3px;line-height:14px;letter-spacing:-.2px;color:rgba(255,255,255,.9);-webkit-text-stroke:.25px rgba(255,255,255,.8)">Projects</div>
<div class="abs b" style="left:772.6px;top:785.8px;font-size:11.1px;line-height:14px;color:#fff">Up to 500</div>
<div class="abs" style="left:896.8px;top:771.6px;font-size:10.3px;line-height:14px;letter-spacing:-.4px;color:rgba(255,255,255,.9);-webkit-text-stroke:.25px rgba(255,255,255,.8)">Tasks</div>
<div class="abs b" style="left:896.8px;top:785.8px;font-size:10.6px;line-height:14px;letter-spacing:-.18px;color:#fff">Unlimited</div>
<div class="abs" style="left:739.7px;top:821px;width:111.5px;height:35.5px;border-radius:6px;background:rgba(255,255,255,.2);color:#fff;font-size:12.6px;line-height:37.5px;text-align:center;-webkit-text-stroke:.45px #fff">Upgrade Plan</div>

<!-- dots -->
<svg class="abs" style="left:624px;top:166px" width="20" height="20" viewBox="624 166 20 20" fill="none" stroke="#c4cada" stroke-width="1.200"><rect x="625.700" y="167.900" width="15.900" height="15.900" rx="4.500"/><path d="M629.900 176 h.1 M633.700 176 h.1 M637.500 176 h.1" stroke-width="1.700" stroke-linecap="round"/></svg>
<svg class="abs" style="left:1097px;top:158px" width="20" height="20" viewBox="1097 158 20 20" fill="none" stroke="#c4cada" stroke-width="1.200"><rect x="1098.800" y="160.400" width="15.900" height="15.900" rx="4.500"/><path d="M1103 168.400 h.1 M1106.800 168.400 h.1 M1110.600 168.400 h.1" stroke-width="1.700" stroke-linecap="round"/></svg>
<!-- card4 icons -->
<svg class="abs" style="left:744px;top:777px" width="16" height="16" viewBox="744 777 16 16" fill="none" stroke="#fff" stroke-width="1" stroke-linecap="round" stroke-linejoin="round"><rect x="746.800" y="779.800" width="11" height="10.800" rx="2.200"/><rect x="749.400" y="782.300" width="5.800" height="5.800" rx=".800"/><path d="M747 783.800 h2.300 M755.300 783.800 h2.300 M747 786.700 h2.300 M755.300 786.700 h2.300 M751 780 v2.200 M753.700 780 v2.200 M751 788.200 v2.200 M753.700 788.200 v2.200" stroke-width=".800"/></svg>
<svg class="abs" style="left:867px;top:776px" width="18" height="18" viewBox="867 776 18 18" fill="none" stroke="#fff" stroke-width="1" stroke-linecap="round" stroke-linejoin="round"><path d="M875.800 779.300 L881.600 781.800 L875.800 784.300 L870 781.800 Z"/><path d="M870.300 784.800 L875.800 787.200 L881.300 784.800"/><path d="M870.300 787.800 L875.800 790.300 L881.300 787.800"/></svg>
<!-- help -->
<div class="abs" style="left:1162px;top:586.7px;width:27px;height:28.3px;border-radius:4px;background:#fff;box-shadow:0 0 12px 2px rgba(0,0,0,.05)"></div>
<svg class="abs" style="left:1166.800px;top:592.200px" width="17" height="17" viewBox="0 0 16 16" fill="none" stroke="#7239ea" stroke-width="1.100" stroke-linecap="round" stroke-linejoin="round"><path d="M8 1.500 L10 2.800 L12.400 2.800 L13.100 5.100 L14.700 6.800 L13.600 9 L13.700 11.300 L11.500 12.100 L10 14 L8 13.100 L6 14 L4.500 12.100 L2.300 11.300 L2.400 9 L1.300 6.800 L2.900 5.100 L3.600 2.800 L6 2.800 Z"/><path d="M6.400 6.300 Q6.500 4.800 8 4.800 Q9.600 4.800 9.600 6.300 Q9.600 7.300 8 8 L8 8.800"/><path d="M8 10.700 v.1"/></svg>

</body>
</html>
